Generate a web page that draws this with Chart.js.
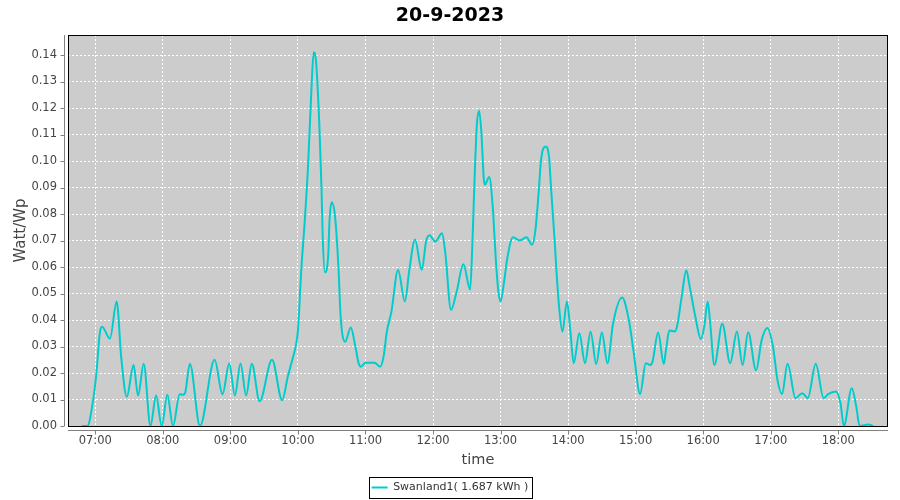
<!DOCTYPE html>
<html>
<head>
<meta charset="utf-8">
<script src="https://cdn.jsdelivr.net/npm/chart.js@4.4.0/dist/chart.umd.min.js"></script>
<style>
  html, body { margin: 0; padding: 0; background: #fff; }
</style>
</head>
<body>
<canvas id="myChart" width="900" height="500"></canvas>
<script>
const chartTitle = '20-9-2023';
const seriesLabel = 'Swanland1( 1.687 kWh )';

// sample times (HH:MM) and Watt/Wp
const times = [
  '06:48','06:53','06:58','07:01','07:04','07:06','07:13','07:19','07:23','07:28',
  '07:34','07:38','07:43','07:49','07:54','07:59','08:04','08:09','08:15','08:18',
  '08:20','08:24','08:33','08:46','08:53','08:59','09:04','09:09','09:14','09:19',
  '09:26','09:37','09:46','09:51','09:55','09:58','10:00','10:03','10:06','10:09',
  '10:12','10:14','10:16','10:19','10:21','10:22','10:24','10:27','10:28','10:30',
  '10:33','10:36','10:38','10:42','10:47','10:51','10:54','10:56','11:00','11:08',
  '11:13','11:16','11:19','11:23','11:29','11:35','11:39','11:44','11:50','11:54',
  '11:57','12:02','12:08','12:11','12:16','12:21','12:27','12:33','12:35','12:37',
  '12:39','12:41','12:43','12:45','12:46','12:50','12:53','12:56','12:58','13:00',
  '13:03','13:06','13:11','13:17','13:23','13:28','13:31','13:34','13:36','13:40',
  '13:43','13:45','13:48','13:50','13:52','13:55','13:59','14:02','14:05','14:10',
  '14:15','14:20','14:25','14:30','14:35','14:40','14:48','14:54','14:58','15:04',
  '15:09','15:13','15:15','15:20','15:25','15:27','15:30','15:35','15:37','15:41',
  '15:45','15:48','15:53','15:58','16:01','16:04','16:06','16:10','16:17','16:24',
  '16:30','16:35','16:40','16:47','16:52','16:57','17:02','17:06','17:10','17:15',
  '17:22','17:28','17:33','17:40','17:47','17:51','17:58','18:02','18:05','18:12',
  '18:16','18:19','18:27','18:31'
];
const values = [
  0, 0, 0.0096, 0.020, 0.035, 0.0375, 0.033, 0.047, 0.026, 0.011,
  0.023, 0.0115, 0.0235, 0, 0.0115, 0, 0.0118, 0, 0.012, 0.0118,
  0.0128, 0.0235, 0, 0.025, 0.012, 0.0236, 0.0115, 0.0236, 0.0115, 0.0235,
  0.0093, 0.025, 0.0097, 0.0186, 0.025, 0.030, 0.036, 0.059, 0.077, 0.098,
  0.127, 0.141, 0.138, 0.114, 0.089, 0.0714, 0.058, 0.065, 0.077, 0.0844,
  0.079, 0.060, 0.041, 0.0318, 0.0372, 0.030, 0.0236, 0.0224, 0.0239, 0.0239,
  0.0224, 0.026, 0.0356, 0.043, 0.0589, 0.047, 0.059, 0.0704, 0.059, 0.070,
  0.072, 0.0696, 0.0727, 0.065, 0.0438, 0.0507, 0.061, 0.0515, 0.069, 0.094,
  0.114, 0.119, 0.1106, 0.094, 0.091, 0.094, 0.083, 0.0615, 0.051, 0.047,
  0.054, 0.0633, 0.0712, 0.070, 0.0712, 0.0684, 0.074, 0.089, 0.1005, 0.1055,
  0.1018, 0.089, 0.0703, 0.0564, 0.045, 0.0356, 0.047, 0.036, 0.0237, 0.035,
  0.0237, 0.0356, 0.0234, 0.0353, 0.0237, 0.0388, 0.0485, 0.040, 0.0287, 0.0121,
  0.0237, 0.023, 0.0243, 0.0353, 0.0234, 0.0288, 0.036, 0.0357, 0.038, 0.049,
  0.0588, 0.0527, 0.0414, 0.0328, 0.0376, 0.047, 0.040, 0.023, 0.0386, 0.0237,
  0.0357, 0.023, 0.0354, 0.021, 0.0325, 0.037, 0.030, 0.0174, 0.0121, 0.0235,
  0.0105, 0.0124, 0.0105, 0.0235, 0.0105, 0.012, 0.013, 0.0086, 0, 0.0142,
  0.0073, 0, 0.0006, 0
];
const hourTicks = ['07:00','08:00','09:00','10:00','11:00','12:00','13:00','14:00','15:00','16:00','17:00','18:00'];
const yTickLabels = ['0.00','0.01','0.02','0.03','0.04','0.05','0.06','0.07','0.08','0.09','0.10','0.11','0.12','0.13','0.14'];

function toMinutes(s) {
  const [h, m] = s.split(':').map(Number);
  return h * 60 + m;
}
function toLabel(min) {
  const h = Math.floor(min / 60), m = Math.round(min % 60);
  return String(h).padStart(2, '0') + ':' + String(m).padStart(2, '0');
}

const points = times.map((t, i) => ({ x: toMinutes(t), y: values[i] }));

Chart.defaults.font.family = 'DejaVu Sans';

// grey plot background, black frame, offset grey axis lines, legend frame
const plotDecor = {
  id: 'plotDecor',
  beforeDraw(chart) {
    const { ctx, chartArea: a } = chart;
    ctx.save();
    ctx.fillStyle = '#cccccc';
    ctx.fillRect(a.left, a.top, a.right - a.left, a.bottom - a.top);
    ctx.restore();
  },
  afterDraw(chart) {
    const { ctx, chartArea: a } = chart;
    const xs = chart.scales.x, ys = chart.scales.y;
    ctx.save();
    ctx.lineWidth = 1;
    ctx.strokeStyle = '#000';
    ctx.strokeRect(a.left + 0.5, a.top + 0.5, a.right - a.left - 1, a.bottom - a.top);

    ctx.strokeStyle = '#808080';
    ctx.beginPath();
    const ax = a.left - 3.5;
    ctx.moveTo(ax, a.top); ctx.lineTo(ax, a.bottom);
    ys.ticks.forEach(t => {
      const py = Math.round(ys.getPixelForValue(t.value)) + 0.5;
      ctx.moveTo(ax - 4, py); ctx.lineTo(ax, py);
    });
    const ay = a.bottom + 4.5;
    ctx.moveTo(a.left, ay); ctx.lineTo(a.right, ay);
    xs.ticks.forEach(t => {
      const px = Math.round(xs.getPixelForValue(t.value)) + 0.5;
      ctx.moveTo(px, ay); ctx.lineTo(px, ay + 4);
    });
    ctx.stroke();

    const hb = chart.legend && chart.legend.legendHitBoxes && chart.legend.legendHitBoxes[0];
    if (hb) {
      const cy = hb.top + hb.height / 2;
      ctx.strokeStyle = '#000';
      ctx.strokeRect(Math.round(hb.left - 3) + 0.5, Math.round(cy - 10.5) + 0.5, Math.round(hb.width + 6), 21);
    }
    ctx.restore();
  }
};

new Chart(document.getElementById('myChart'), {
  type: 'line',
  data: {
    datasets: [{
      label: seriesLabel,
      data: points,
      borderColor: '#00cccc',
      backgroundColor: '#00cccc',
      borderWidth: 2,
      pointRadius: 0,
      cubicInterpolationMode: 'monotone',
      fill: false
    }]
  },
  options: {
    responsive: false,
    animation: false,
    devicePixelRatio: 1,
    layout: { padding: { left: 0, right: 0, top: 0, bottom: -3 } },
    plugins: {
      title: {
        display: true,
        text: chartTitle,
        color: '#000',
        font: { size: 19, weight: 'bold' },
        padding: { top: 5, bottom: 7.2 }
      },
      legend: {
        position: 'bottom',
        labels: {
          usePointStyle: true,
          pointStyle: 'line',
          pointStyleWidth: 16,
          color: '#333',
          font: { size: 11 },
          padding: 8
        }
      },
      tooltip: { enabled: false }
    },
    scales: {
      x: {
        type: 'linear',
        min: 395.75,
        max: 1124.2,
        afterBuildTicks: s => { s.ticks = hourTicks.map(h => ({ value: toMinutes(h) })); },
        afterFit: s => { s.height = 48; },
        ticks: {
          color: '#444',
          font: { size: 11.5 },
          padding: 3,
          maxRotation: 0,
          callback: v => toLabel(v)
        },
        grid: { color: '#ffffff', tickColor: 'rgba(0,0,0,0)', tickLength: 5 },
        border: { display: false, dash: [2, 2] },
        title: {
          display: true,
          text: 'time',
          color: '#444',
          font: { size: 14.5 },
          padding: { top: 0, bottom: 5.3 }
        }
      },
      y: {
        min: 0,
        max: 0.14755,
        afterBuildTicks: s => { s.ticks = yTickLabels.map(v => ({ value: parseFloat(v) })); },
        afterFit: s => { s.width = 68; },
        ticks: {
          color: '#444',
          font: { size: 11.5 },
          padding: 6,
          callback: v => v.toFixed(2)
        },
        grid: { color: '#ffffff', tickColor: 'rgba(0,0,0,0)', tickLength: 5 },
        border: { display: false, dash: [2, 2] },
        title: {
          display: true,
          text: 'Watt/Wp',
          color: '#444',
          font: { size: 15 },
          padding: { top: 12, bottom: 0 }
        }
      },
      yRight: {
        position: 'right',
        display: true,
        afterFit: s => { s.width = 12; },
        ticks: { display: false },
        grid: { display: false },
        border: { display: false }
      }
    }
  },
  plugins: [plotDecor]
});
</script>
</body>
</html>
